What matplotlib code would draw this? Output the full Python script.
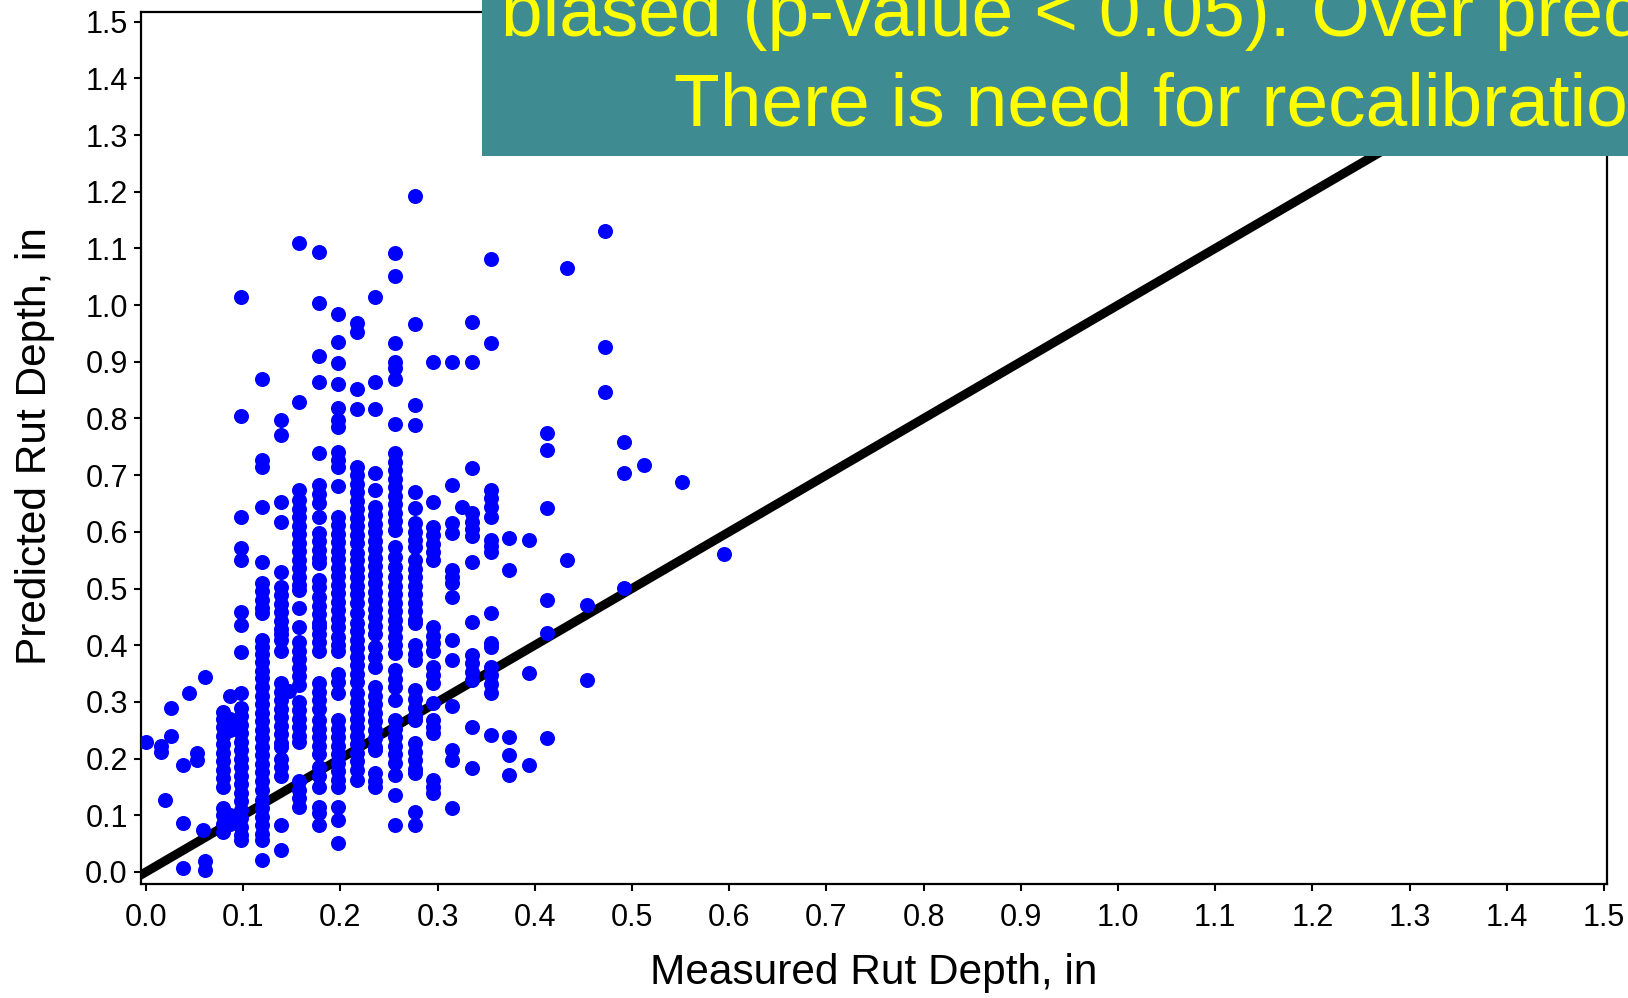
import matplotlib
matplotlib.use("Agg")
import matplotlib.pyplot as plt
from matplotlib.patches import Rectangle
import numpy as np

plt.rcParams['font.family'] = ['Liberation Sans', 'DejaVu Sans']

# Measured rut depth columns (in) and predicted rut depths (in)
measured_cols = [0.000, 0.015, 0.020, 0.026, 0.038, 0.044, 0.052, 0.059, 0.061,
                 0.079, 0.086, 0.098, 0.119, 0.139, 0.147, 0.157, 0.178, 0.198,
                 0.217, 0.236, 0.256, 0.277, 0.295, 0.315, 0.325, 0.335, 0.355,
                 0.374, 0.394, 0.413, 0.433, 0.454, 0.472, 0.492, 0.512, 0.551, 0.595]

predicted_by_col = [
    [0.23],
    [0.222, 0.212],
    [0.127],
    [0.289, 0.239],
    [0.189, 0.086, 0.007],
    [0.315],
    [0.210, 0.198],
    [0.074],
    [0.344, 0.020, 0.004],
    [0.283, 0.270, 0.255, 0.240, 0.225, 0.210, 0.195, 0.180, 0.165, 0.150,
     0.113, 0.100, 0.085, 0.070],
    [0.310, 0.270, 0.250, 0.100, 0.085],
    [1.014, 0.804, 0.627, 0.571, 0.550, 0.459, 0.436, 0.388, 0.315, 0.290,
     0.275, 0.260, 0.245, 0.230, 0.215, 0.200, 0.185, 0.170, 0.155, 0.140,
     0.125, 0.110, 0.095, 0.080, 0.065, 0.056],
    [0.869, 0.727, 0.715, 0.644, 0.547, 0.510, 0.495, 0.480, 0.465, 0.457,
     0.410, 0.397, 0.385, 0.370, 0.355, 0.343, 0.326, 0.311, 0.296, 0.281,
     0.266, 0.251, 0.236, 0.221, 0.206, 0.191, 0.176, 0.161, 0.145, 0.127,
     0.112, 0.097, 0.082, 0.067, 0.056, 0.021],
    [0.797, 0.770, 0.653, 0.618, 0.530, 0.503, 0.488, 0.473, 0.458, 0.443,
     0.428, 0.420, 0.410, 0.390, 0.333, 0.318, 0.303, 0.288, 0.273, 0.258,
     0.243, 0.228, 0.221, 0.200, 0.185, 0.170, 0.083, 0.039],
    [0.320],
    [1.109, 0.829, 0.674, 0.656, 0.641, 0.626, 0.611, 0.596, 0.581, 0.566,
     0.551, 0.536, 0.521, 0.506, 0.497, 0.466, 0.432, 0.405, 0.390, 0.375,
     0.360, 0.345, 0.330, 0.300, 0.285, 0.270, 0.255, 0.240, 0.230, 0.160,
     0.145, 0.130, 0.115],
    [1.093, 1.003, 0.910, 0.864, 0.739, 0.682, 0.666, 0.650, 0.627, 0.598,
     0.583, 0.568, 0.553, 0.545, 0.515, 0.503, 0.485, 0.470, 0.455, 0.440,
     0.432, 0.420, 0.405, 0.390, 0.333, 0.318, 0.303, 0.288, 0.268, 0.253,
     0.238, 0.223, 0.208, 0.185, 0.170, 0.150, 0.115, 0.104, 0.083],
    [0.984, 0.935, 0.898, 0.861, 0.818, 0.797, 0.785, 0.740, 0.727, 0.715,
     0.680, 0.627, 0.612, 0.597, 0.582, 0.567, 0.552, 0.537, 0.522, 0.507,
     0.492, 0.477, 0.462, 0.447, 0.432, 0.415, 0.400, 0.390, 0.350, 0.335,
     0.315, 0.268, 0.253, 0.238, 0.223, 0.208, 0.193, 0.178, 0.163, 0.150,
     0.115, 0.092, 0.051],
    [0.968, 0.952, 0.852, 0.817, 0.715, 0.700, 0.685, 0.670, 0.655, 0.640,
     0.625, 0.610, 0.595, 0.580, 0.562, 0.550, 0.535, 0.520, 0.505, 0.490,
     0.475, 0.457, 0.440, 0.425, 0.410, 0.395, 0.380, 0.365, 0.350, 0.335,
     0.315, 0.300, 0.285, 0.270, 0.255, 0.240, 0.225, 0.210, 0.195, 0.180,
     0.163],
    [1.014, 0.864, 0.817, 0.703, 0.674, 0.644, 0.629, 0.614, 0.599, 0.584,
     0.569, 0.554, 0.539, 0.524, 0.509, 0.494, 0.479, 0.464, 0.449, 0.434,
     0.420, 0.397, 0.380, 0.362, 0.326, 0.311, 0.296, 0.281, 0.266, 0.251,
     0.236, 0.221, 0.215, 0.175, 0.160, 0.150],
    [1.091, 1.051, 0.933, 0.899, 0.889, 0.869, 0.790, 0.739, 0.724, 0.709,
     0.694, 0.679, 0.664, 0.649, 0.634, 0.619, 0.604, 0.573, 0.555, 0.538,
     0.520, 0.505, 0.490, 0.475, 0.460, 0.445, 0.430, 0.415, 0.400, 0.386,
     0.356, 0.341, 0.326, 0.303, 0.268, 0.253, 0.238, 0.223, 0.208, 0.192,
     0.171, 0.136, 0.083],
    [1.192, 0.966, 0.824, 0.788, 0.670, 0.642, 0.615, 0.600, 0.585, 0.573,
     0.550, 0.535, 0.520, 0.505, 0.490, 0.475, 0.460, 0.445, 0.439, 0.400,
     0.385, 0.374, 0.321, 0.305, 0.290, 0.275, 0.268, 0.227, 0.212, 0.197,
     0.182, 0.175, 0.106, 0.083],
    [0.899, 0.653, 0.609, 0.594, 0.579, 0.564, 0.550, 0.432, 0.417, 0.404,
     0.390, 0.362, 0.347, 0.333, 0.298, 0.268, 0.256, 0.245, 0.162, 0.150,
     0.139],
    [0.899, 0.682, 0.615, 0.598, 0.533, 0.520, 0.510, 0.485, 0.409, 0.374,
     0.292, 0.215, 0.198, 0.112],
    [0.644],
    [0.970, 0.899, 0.712, 0.633, 0.618, 0.605, 0.592, 0.547, 0.441, 0.383,
     0.368, 0.353, 0.339, 0.256, 0.183],
    [1.081, 0.933, 0.674, 0.659, 0.643, 0.627, 0.586, 0.575, 0.565, 0.457,
     0.404, 0.397, 0.362, 0.347, 0.331, 0.315, 0.242],
    [0.589, 0.533, 0.238, 0.206, 0.171],
    [0.586, 0.351, 0.189],
    [0.774, 0.744, 0.642, 0.480, 0.422, 0.236],
    [1.065, 0.550],
    [0.471, 0.339],
    [1.131, 0.926, 0.847],
    [0.758, 0.703, 0.501],
    [0.718],
    [0.688],
    [0.561],
]

tick_values = [0.0, 0.1, 0.2, 0.3, 0.4, 0.5, 0.6, 0.7, 0.8, 0.9, 1.0, 1.1, 1.2, 1.3, 1.4, 1.5]
tick_labels = ['0.0', '0.1', '0.2', '0.3', '0.4', '0.5', '0.6', '0.7', '0.8', '0.9',
               '1.0', '1.1', '1.2', '1.3', '1.4', '1.5']

x_label = 'Measured Rut Depth, in'
y_label = 'Predicted Rut Depth, in'
note_line1 = 'biased (p-value < 0.05). Over prediction.'
note_line2 = 'There is need for recalibration.'

measured = []
predicted = []
for xv, ys in zip(measured_cols, predicted_by_col):
    for yv in ys:
        measured.append(xv)
        predicted.append(yv)

W, H = 1628, 998
fig = plt.figure(figsize=(W / 100, H / 100), dpi=100)
fig.patch.set_facecolor('white')

ax_l, ax_r, ax_t, ax_b = 141, 1607, 12, 884
ax = fig.add_axes([ax_l / W, (H - ax_b) / H, (ax_r - ax_l) / W, (ax_b - ax_t) / H])
ax.set_xlim(-0.0051, 1.5031)
ax.set_ylim(-0.0212, 1.517)

# 1:1 line of equality
ax.axline((0.0, 0.0), slope=1.0, color='black', lw=6.5, zorder=2)
ax.scatter(measured, predicted, s=117, color='#0000FF', linewidths=0, zorder=3)

ax.set_xticks(tick_values)
ax.set_xticklabels(tick_labels)
ax.set_yticks(tick_values)
ax.set_yticklabels(tick_labels)
ax.tick_params(direction='out', length=5, width=1.5, labelsize=22, colors='black')
ax.tick_params(axis='x', pad=8.5)
ax.tick_params(axis='y', pad=4.5)
for sp in ax.spines.values():
    sp.set_linewidth(1.6)
    sp.set_color('black')

fig.text(874 / W, (H - 973) / H, x_label, ha='center', va='center', fontsize=30.5)
fig.text(35 / W, (H - 446) / H, y_label, ha='center', va='center', fontsize=30.5,
         rotation=90)

box = Rectangle((482 / W, (H - 156) / H), 1 - 482 / W, 156 / H,
                transform=fig.transFigure, facecolor='#3E8C92', edgecolor='none',
                zorder=10)
fig.add_artist(box)
fig.text(501 / W, (H - 36) / H, note_line1, ha='left', va='baseline',
         fontsize=54, color='#FFFF00', zorder=11)
fig.text(674 / W, (H - 125) / H, note_line2, ha='left', va='baseline',
         fontsize=54, color='#FFFF00', zorder=11)

fig.savefig('out.png', dpi=100)
